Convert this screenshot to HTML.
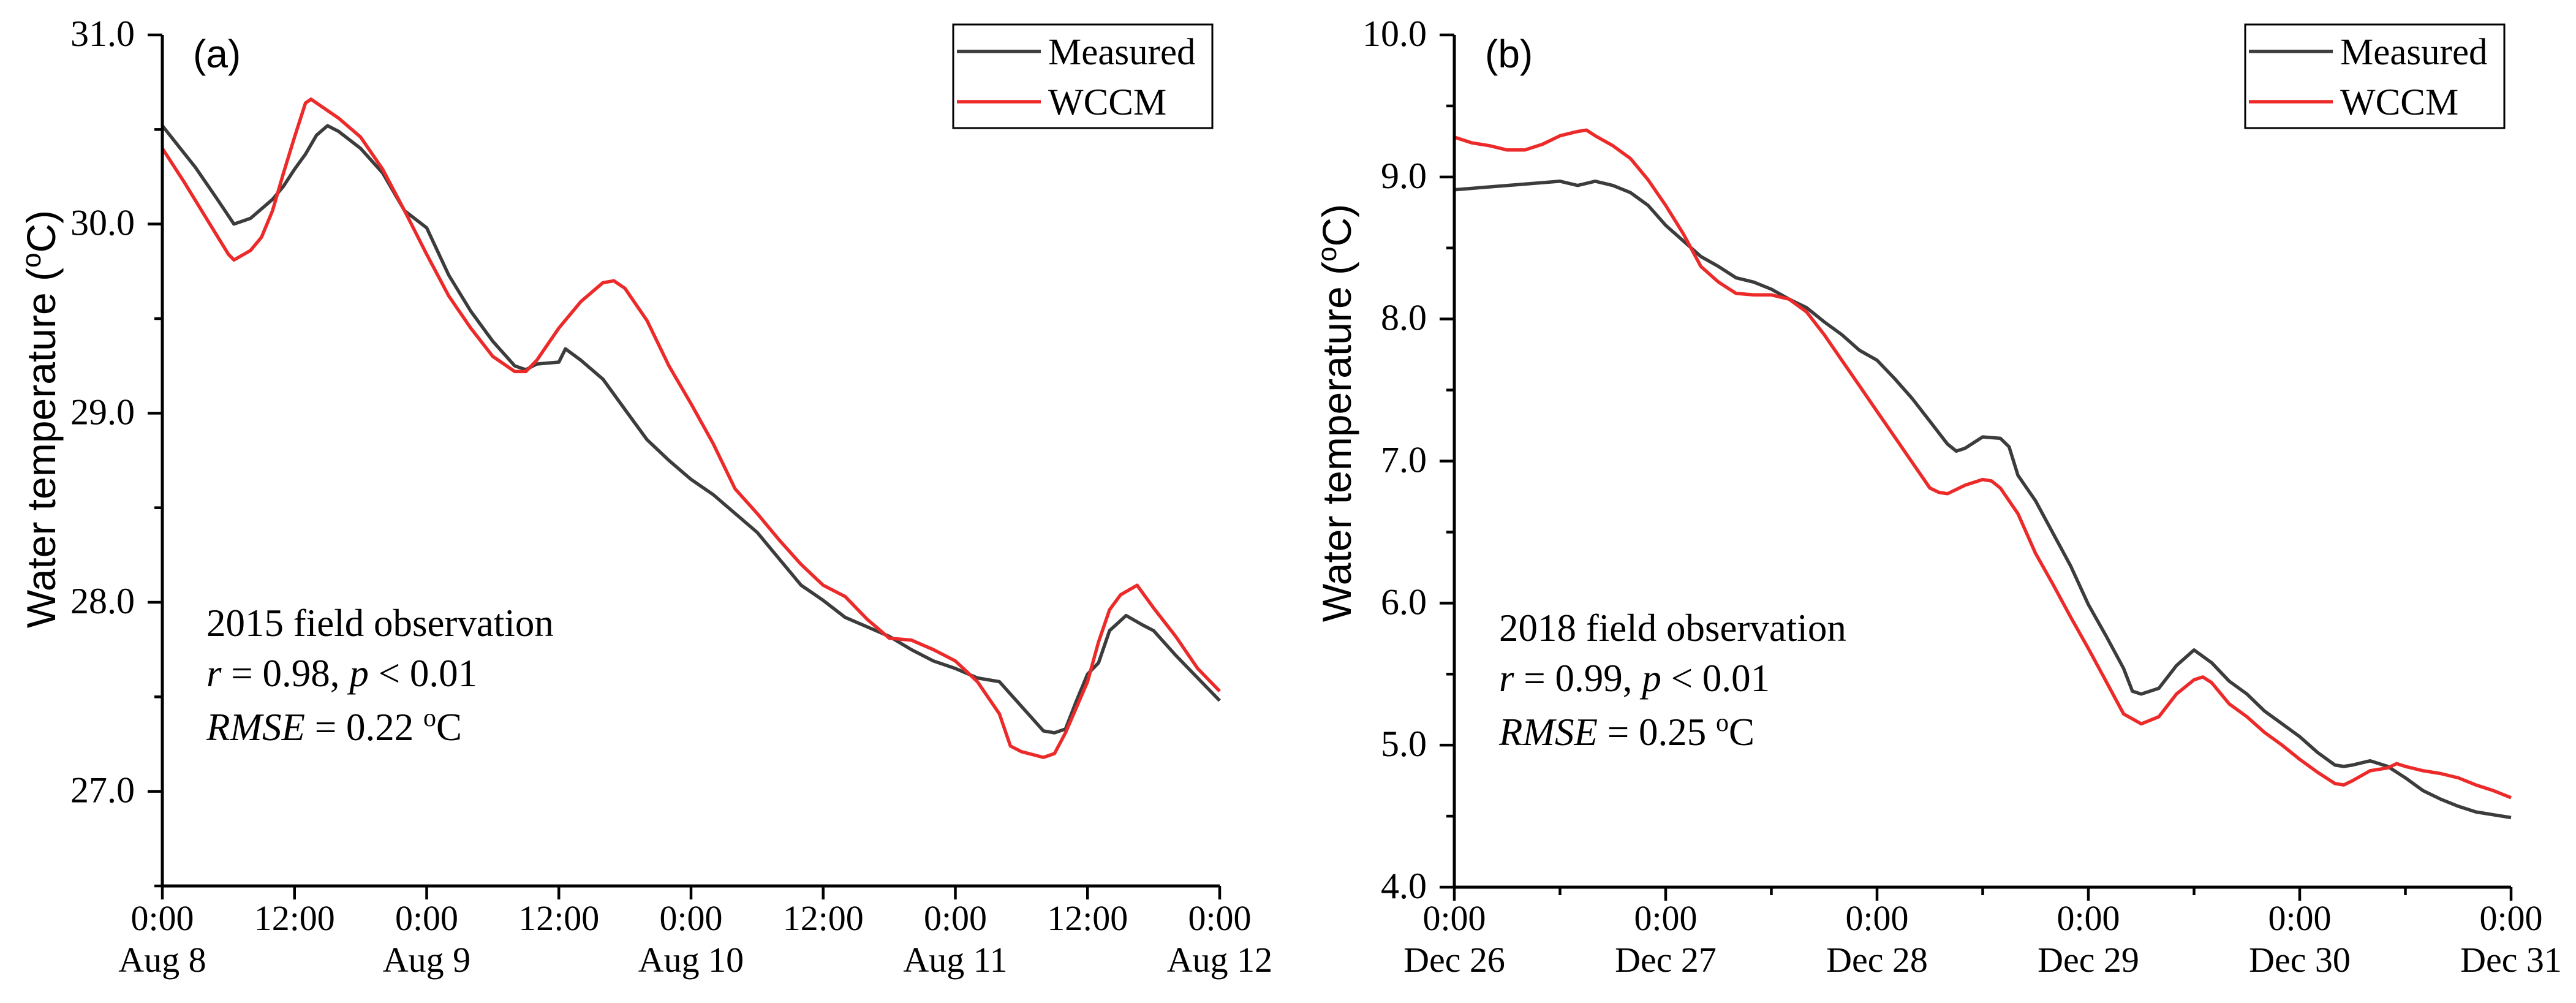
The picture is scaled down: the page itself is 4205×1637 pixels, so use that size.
<!DOCTYPE html>
<html><head><meta charset="utf-8"><style>
html,body{margin:0;padding:0;background:#fff;}
svg{display:block;}
text{font-family:"Liberation Serif",serif;fill:#000;}
.sans{font-family:"Liberation Sans",sans-serif;}
</style></head><body>
<svg id="chart" width="4205" height="1637" viewBox="0 0 4205 1637" xmlns="http://www.w3.org/2000/svg"></svg>
<script>
// Panel (a) data
const aHoursM = [0,3,5,6.5,8,10,11,12,13,14,15,16,18,20,22,24,26,28,30,32,33,34,36,36.6,38,40,42,44,46,48,50,52,54,56,58,60,62,64,66,68,70,72,74,76,78,80,81,82,83,84,85,86,87.5,89,90,92,94,96];
const aMeasured = [30.52,30.3,30.13,30.0,30.03,30.13,30.2,30.29,30.37,30.47,30.52,30.49,30.4,30.27,30.07,29.98,29.73,29.54,29.38,29.25,29.23,29.26,29.27,29.34,29.28,29.18,29.02,28.86,28.75,28.65,28.57,28.47,28.37,28.23,28.09,28.01,27.92,27.87,27.82,27.75,27.69,27.65,27.6,27.58,27.45,27.32,27.31,27.33,27.48,27.62,27.68,27.85,27.93,27.88,27.85,27.72,27.6,27.48];
const aHoursW = [0,2,4,6,6.5,8,9,10,11,12,13,13.5,14,16,18,20,22,24,26,28,30,32,33,34,36,38,40,41,42,44,46,48,50,52,54,56,58,60,62,64,66,68,70,72,74,76,77,78,80,81,82,84,85,86,87,88.5,90,92,94,96];
const aWCCM = [30.4,30.22,30.03,29.84,29.81,29.86,29.93,30.07,30.27,30.46,30.64,30.66,30.64,30.56,30.46,30.29,30.07,29.84,29.62,29.45,29.3,29.22,29.22,29.28,29.45,29.59,29.69,29.7,29.66,29.49,29.25,29.05,28.84,28.6,28.47,28.33,28.2,28.09,28.03,27.91,27.81,27.8,27.75,27.69,27.58,27.41,27.24,27.21,27.18,27.2,27.31,27.58,27.79,27.96,28.04,28.09,27.97,27.82,27.65,27.53];
const aYTicks = ["27.0","28.0","29.0","30.0","31.0"];
const aXTop = ["0:00","12:00","0:00","12:00","0:00","12:00","0:00","12:00","0:00"];
const aXDates = ["Aug 8","Aug 9","Aug 10","Aug 11","Aug 12"];
// Panel (b) data
const bHoursM = [0,6,12,14,16,18,20,22,24,26,28,30,32,34,36,38,40,42,44,46,48,50,52,54,56,57,58,60,62,63,64,66,68,70,72,74,76,77,78,80,82,84,86,88,90,92,94,96,98,100,101,102,104,106,108,110,112,114,116,118,120];
const bMeasured = [8.91,8.94,8.97,8.94,8.97,8.94,8.89,8.8,8.66,8.55,8.44,8.37,8.29,8.26,8.21,8.14,8.08,7.98,7.89,7.78,7.71,7.58,7.44,7.28,7.12,7.07,7.09,7.17,7.16,7.1,6.9,6.72,6.49,6.26,5.99,5.77,5.54,5.38,5.36,5.4,5.56,5.67,5.58,5.45,5.36,5.24,5.15,5.06,4.95,4.86,4.85,4.86,4.89,4.85,4.77,4.68,4.62,4.57,4.53,4.51,4.49];
const bHoursW = [0,2,4,6,8,10,12,14,15,16,18,20,22,24,26,28,30,32,34,36,38,40,42,44,46,48,50,52,54,55,56,58,60,61,62,64,66,68,70,72,74,76,78,80,82,84,85,86,88,90,92,94,96,98,100,101,102,104,106,107,108,110,112,114,116,118,120];
const bWCCM = [9.28,9.24,9.22,9.19,9.19,9.23,9.29,9.32,9.33,9.29,9.22,9.13,8.98,8.8,8.6,8.37,8.26,8.18,8.17,8.17,8.14,8.05,7.89,7.71,7.53,7.35,7.17,6.99,6.81,6.78,6.77,6.83,6.87,6.86,6.81,6.63,6.35,6.13,5.9,5.68,5.45,5.22,5.15,5.2,5.36,5.46,5.48,5.44,5.29,5.2,5.09,5.0,4.9,4.81,4.73,4.72,4.75,4.82,4.84,4.87,4.85,4.82,4.8,4.77,4.72,4.68,4.63];
const bYTicks = ["4.0","5.0","6.0","7.0","8.0","9.0","10.0"];
const bXTop = ["0:00","0:00","0:00","0:00","0:00","0:00"];
const bXDates = ["Dec 26","Dec 27","Dec 28","Dec 29","Dec 30","Dec 31"];

const svg = document.getElementById('chart');
const NS = 'http://www.w3.org/2000/svg';
function mk(tag, attrs, parent){
  const e = document.createElementNS(NS, tag);
  for (const k in attrs) e.setAttribute(k, attrs[k]);
  (parent||svg).appendChild(e);
  return e;
}

function panel(cfg){
  const g = mk('g', {});
  
  
  const X = h => cfg.x0 + h / cfg.xMax * (cfg.x1 - cfg.x0);
  const Y = v => cfg.y1 - (v - cfg.yMin) / (cfg.yMax - cfg.yMin) * (cfg.y1 - cfg.y0);

  function series(hours, vals, color, nm){
    let d = '';
    hours.forEach((h,i) => { d += (i ? 'L' : 'M') + X(h).toFixed(1) + ' ' + Y(vals[i]).toFixed(1); });
    const p = mk('path', {d: d, fill: 'none', stroke: color, 'stroke-width': 5.5, 'stroke-linejoin': 'round'}, g);
    
    
  }
  series(cfg.hM, cfg.vM, '#3c3c3c', 'measured-line');
  series(cfg.hW, cfg.vW, '#ec2a2a', 'wccm-line');

  const ax = mk('path', {d: `M${cfg.x0} ${cfg.y0}V${cfg.y1}H${cfg.x1}`, fill: 'none', stroke: '#000', 'stroke-width': 5}, g);
  
  

  for (let v = cfg.yMin; v <= cfg.yMax + 1e-6; v += 0.5) {
    const major = Math.abs(v - Math.round(v)) < 1e-6;
    mk('line', {x1: cfg.x0 - (major ? 24 : 13), x2: cfg.x0, y1: Y(v), y2: Y(v), stroke: '#000', 'stroke-width': 4.5}, g);
  }
  cfg.yT.forEach((lab) => {
    const v = parseFloat(lab);
    const t = mk('text', {x: cfg.x0 - 45, y: Y(v) + 18, 'text-anchor': 'end', 'font-size': 60}, g);
    t.textContent = lab;
    
    
  });

  for (let h = 0; h <= cfg.xMax; h += 12) {
    mk('line', {x1: X(h), x2: X(h), y1: cfg.y1, y2: cfg.y1 + (h % cfg.labStep === 0 ? 22 : 13), stroke: '#000', 'stroke-width': 4.5}, g);
  }
  cfg.xT.forEach((lab, i) => {
    const t = mk('text', {x: X(i * cfg.labStep), y: 1518, 'text-anchor': 'middle', 'font-size': 58}, g);
    t.textContent = lab;
    
    
  });
  cfg.xD.forEach((lab, i) => {
    const t = mk('text', {x: X(i * 24), y: 1586, 'text-anchor': 'middle', 'font-size': 58}, g);
    t.textContent = lab;
    
    
  });

  const yt = mk('text', {x: 0, y: 0, 'text-anchor': 'middle', 'font-size': 66, class: 'sans', transform: `translate(${cfg.titleX},${cfg.titleY}) rotate(-90)`}, g);
  yt.innerHTML = 'Water temperature (<tspan baseline-shift="super" font-size="44">o</tspan>C)';
  
  

  const pl = mk('text', {x: cfg.x0 + 50, y: 110, 'font-size': 64, class: 'sans'}, g);
  pl.textContent = cfg.letter;
  
  

  const ann = mk('g', {}, g);
  
  
  const t1 = mk('text', {x: cfg.annX, y: cfg.annY, 'font-size': 63}, ann);
  t1.textContent = cfg.yearText;
  const t2 = mk('text', {x: cfg.annX, y: cfg.annY + 82, 'font-size': 63}, ann);
  t2.innerHTML = '<tspan font-style="italic">r</tspan> = ' + cfg.r + ', <tspan font-style="italic">p</tspan> &lt; 0.01';
  const t3 = mk('text', {x: cfg.annX, y: cfg.annY + 170, 'font-size': 63}, ann);
  t3.innerHTML = '<tspan font-style="italic">RMSE</tspan> = ' + cfg.rmse + ' <tspan baseline-shift="super" font-size="42">o</tspan>C';

  const lg = mk('g', {}, g);
  
  
  mk('rect', {x: cfg.lx, y: 40, width: 423, height: 169, fill: '#fff', stroke: '#000', 'stroke-width': 3}, lg);
  mk('line', {x1: cfg.lx + 6, x2: cfg.lx + 143, y1: 84, y2: 84, stroke: '#3c3c3c', 'stroke-width': 5.5}, lg);
  mk('line', {x1: cfg.lx + 6, x2: cfg.lx + 143, y1: 166, y2: 166, stroke: '#ec2a2a', 'stroke-width': 5.5}, lg);
  const l1 = mk('text', {x: cfg.lx + 155, y: 105, 'font-size': 61}, lg);
  l1.textContent = 'Measured';
  
  
  const l2 = mk('text', {x: cfg.lx + 155, y: 187, 'font-size': 61}, lg);
  l2.textContent = 'WCCM';
  
  
}

panel({name: 'panel-a', letter: '(a)', x0: 265, x1: 1991, y0: 57, y1: 1446, xMax: 96, yMin: 26.5, yMax: 31,
  hM: aHoursM, vM: aMeasured, hW: aHoursW, vW: aWCCM, yT: aYTicks, xT: aXTop, xD: aXDates, labStep: 12,
  titleX: 90, titleY: 684, annX: 337, annY: 1038, yearText: '2015 field observation', r: '0.98', rmse: '0.22', lx: 1556});
panel({name: 'panel-b', letter: '(b)', x0: 2374, x1: 4099, y0: 57, y1: 1448, xMax: 120, yMin: 4, yMax: 10,
  hM: bHoursM, vM: bMeasured, hW: bHoursW, vW: bWCCM, yT: bYTicks, xT: bXTop, xD: bXDates, labStep: 24,
  titleX: 2205, titleY: 674, annX: 2447, annY: 1046, yearText: '2018 field observation', r: '0.99', rmse: '0.25', lx: 3665});
</script>
</body></html>
